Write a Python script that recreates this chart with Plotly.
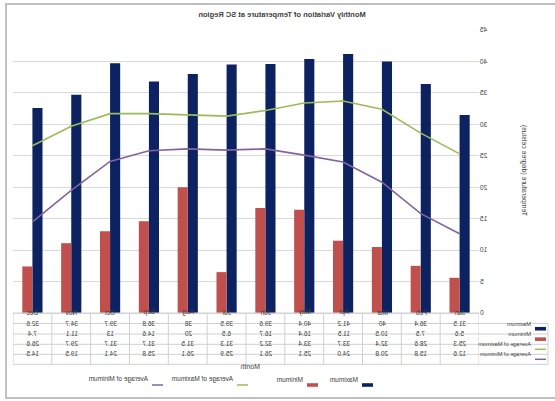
import plotly.graph_objects as go

# Monthly temperature data, SC region
months = ["Jan", "Feb", "Mar", "Apr", "May", "Jun", "Jul", "Aug", "Sep", "Oct", "Nov", "Dec"]
maximum = [31.5, 36.4, 40, 41.2, 40.4, 39.6, 39.5, 38, 36.8, 39.7, 34.7, 32.6]
minimum = [5.6, 7.5, 10.5, 11.5, 16.4, 16.7, 6.5, 20, 14.6, 13, 11.1, 7.4]
avg_max = [25.3, 28.6, 32.4, 33.7, 33.4, 32.2, 31.3, 31.5, 31.7, 31.7, 29.7, 26.6]
avg_min = [12.6, 15.8, 20.8, 24.0, 25.1, 26.1, 25.9, 26.1, 25.8, 24.1, 19.5, 14.5]
y_ticks = [0, 5, 10, 15, 20, 25, 30, 35, 40, 45]

C_MAX = "#0d2260"
C_MIN = "#c0504d"
C_AMAX = "#9bbb59"
C_AMIN = "#8064a2"
GRID = "#d9d9d9"
TXT = "#404040"
FONT = "Liberation Sans"

W, H = 555, 401
L, R, T, B = 76, 13, 30, 88
PW, PH = W - L - R, H - T - B


def px(p):
    """pixel x -> paper x"""
    return (p - L) / PW


def py(q):
    """pixel y -> paper y"""
    return (H - B - q) / PH


# (name, values, colour, key kind, number format in the table)
series = [
    ("Maximum", maximum, C_MAX, "bar", "{:g}"),
    ("Minimum", minimum, C_MIN, "bar", "{:g}"),
    ("Average of Maximum", avg_max, C_AMAX, "line", "{:.1f}"),
    ("Average of Minimum", avg_min, C_AMIN, "line", "{:.1f}"),
]

fig = go.Figure()
fig.add_bar(x=months, y=maximum, name="Maximum", marker=dict(color=C_MAX, line=dict(width=0)))
fig.add_bar(x=months, y=minimum, name="Minimum", marker=dict(color=C_MIN, line=dict(width=0)))
fig.add_scatter(x=months, y=avg_max, name="Average of Maximum", mode="lines",
                line=dict(color=C_AMAX, width=1.6))
fig.add_scatter(x=months, y=avg_min, name="Average of Minimum", mode="lines",
                line=dict(color=C_AMIN, width=1.6))

shapes = []
annotations = []


def key(x0, yc, col, kind):
    """small legend key: a flat box for bars, a short stroke for lines"""
    if kind == "bar":
        return dict(type="rect", xref="paper", yref="paper", x0=px(x0), x1=px(x0 + 11),
                    y0=py(yc + 1.8), y1=py(yc - 1.8), fillcolor=col, line=dict(width=0))
    return dict(type="line", xref="paper", yref="paper", x0=px(x0), x1=px(x0 + 11),
                y0=py(yc), y1=py(yc), line=dict(color=col, width=1.5))


# data table under the plot
rows = [313, 323.5, 334, 344.3, 354.3, 364.3]
line_style = dict(color="#d0d0d0", width=1)
for i, q in enumerate(rows):
    x0 = 0 if i == 0 else px(7)
    shapes.append(dict(type="line", xref="paper", yref="paper", x0=x0, x1=1,
                       y0=py(q), y1=py(q), line=line_style, layer="above"))
for k in range(len(months) + 1):
    shapes.append(dict(type="line", xref="x", yref="paper", x0=k - 0.5, x1=k - 0.5,
                       y0=py(rows[0]), y1=py(rows[-1]), line=line_style))
shapes.append(dict(type="line", xref="paper", yref="paper", x0=px(7), x1=px(7),
                   y0=py(rows[1]), y1=py(rows[-1]), line=line_style))

for m in months:
    annotations.append(dict(x=m, xref="x", yref="paper", y=py((rows[0] + rows[1]) / 2),
                            text=m, showarrow=False, font=dict(size=6.5, color=TXT, family=FONT)))

for r, (name, vals, col, kind, fmt) in enumerate(series):
    yc = (rows[r + 1] + rows[r + 2]) / 2
    for m, v in zip(months, vals):
        annotations.append(dict(x=m, xref="x", yref="paper", y=py(yc), text=fmt.format(v),
                                showarrow=False, font=dict(size=6.5, color=TXT, family=FONT)))
    shapes.append(key(9, yc, col, kind))
    annotations.append(dict(x=px(21.5), xref="paper", yref="paper", y=py(yc), text=name,
                            xanchor="left", showarrow=False,
                            font=dict(size=5.6, color=TXT, family=FONT)))

# legend row at the bottom
legend_x = [182, 237, 307, 392]
for (name, _, col, kind, _f), lx in zip(series, legend_x):
    shapes.append(key(lx, 385, col, kind))
    annotations.append(dict(x=px(lx + 13), xref="paper", yref="paper", y=py(385), text=name,
                            xanchor="left", showarrow=False,
                            font=dict(size=6.5, color=TXT, family=FONT)))

# axis titles
annotations.append(dict(x=px(305), y=py(372), xref="paper", yref="paper", text="Month",
                        showarrow=False, font=dict(size=7, color=TXT, family=FONT)))
annotations.append(dict(x=px(25), y=py(171), xref="paper", yref="paper",
                        text="Temperature (degree celsius)", textangle=-90,
                        showarrow=False, font=dict(size=7, color=TXT, family=FONT)))

# outer frame
FRAME = "#c0c0c0"
shapes.append(dict(type="rect", xref="paper", yref="paper", x0=px(-5), x1=px(549),
                   y0=py(398), y1=py(4), line=dict(color=FRAME, width=2),
                   fillcolor="rgba(0,0,0,0)"))

fig.update_layout(
    width=W, height=H,
    margin=dict(l=L, r=R, t=T, b=B, autoexpand=False),
    paper_bgcolor="white", plot_bgcolor="white",
    barmode="group", bargap=0.48, bargroupgap=0,
    title=dict(text="<b>Monthly Variation of Temperature at SC Region</b>", x=273 / W,
               xanchor="center", y=1 - 14 / H, yanchor="middle",
               font=dict(size=7.5, color=TXT, family=FONT)),
    font=dict(family=FONT, size=7, color=TXT),
    showlegend=False,
    shapes=shapes,
    annotations=annotations,
)
fig.update_xaxes(type="category", range=[-0.5, 11.5], showticklabels=False, ticks="",
                 showgrid=False, showline=True, linecolor=GRID, linewidth=1, zeroline=False)
fig.update_yaxes(range=[0, 45], tickvals=y_ticks, showgrid=True, gridcolor=GRID, gridwidth=1,
                 zeroline=False, showline=False, ticks="", ticklen=0,
                 tickfont=dict(size=6.5, color=TXT, family=FONT))

# the chart is shown mirrored left-to-right
post = (
    "document.body.style.margin='0';"
    "var gd=document.getElementById('{plot_id}');"
    "gd.style.transform='scaleX(-1)';gd.style.transformOrigin='center';"
)
fig.write_html("out.html", post_script=post)
